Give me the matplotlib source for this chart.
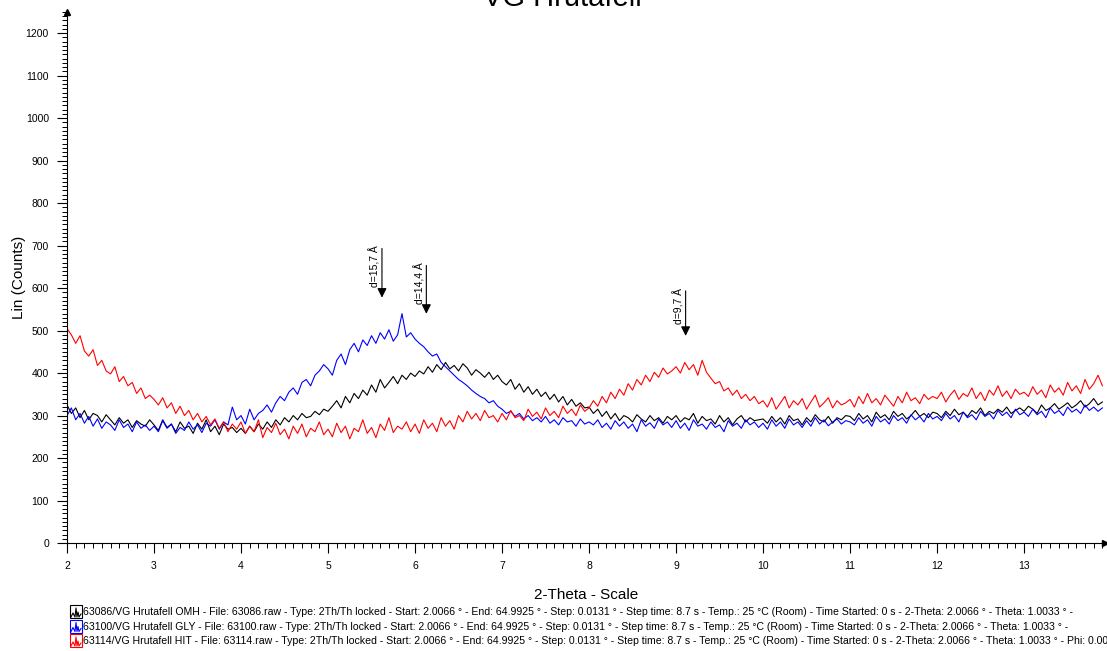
import numpy as np
import matplotlib
matplotlib.use("Agg")
from matplotlib import pyplot as plt
from matplotlib.patches import Rectangle
from matplotlib.lines import Line2D
from matplotlib.ticker import MultipleLocator

plt.rcParams['font.family'] = ['Liberation Sans', 'DejaVu Sans']

# 2-Theta grid, step 0.05 deg
two_theta = np.round(np.arange(2.0, 13.901, 0.05), 3)

omh = [325, 305, 318, 295, 312, 290, 305, 300, 285, 302, 290, 278, 295, 282, 290, 272, 288, 280, 275, 290,
       278, 265, 290, 272, 280, 262, 285, 270, 275, 258, 282, 268, 290, 262, 275, 255, 280, 268, 272, 260,
       270, 258, 275, 262, 280, 268, 285, 272, 290, 278, 295, 285, 300, 290, 305, 295, 298, 310, 302, 315,
       310, 322, 335, 318, 345, 330, 352, 340, 360, 348, 372, 355, 385, 365, 378, 392, 375, 395, 385, 400,
       392, 405, 398, 415, 402, 420, 408, 425, 410, 418, 405, 422, 412, 395, 408, 400, 390, 402, 385, 395,
       380, 372, 385, 362, 375, 355, 368, 350, 362, 345, 355, 338, 350, 332, 345, 325, 338, 322, 330, 318,
       320, 305, 315, 298, 310, 292, 305, 288, 300, 295, 285, 302, 292, 285, 300, 288, 295, 282, 298, 290,
       300, 285, 295, 290, 305, 282, 298, 288, 292, 280, 300, 285, 295, 278, 292, 300, 285, 295, 288, 290,
       292, 282, 298, 285, 295, 280, 300, 288, 292, 278, 295, 285, 302, 290, 285, 298, 282, 295, 290, 300,
       298, 288, 305, 292, 300, 285, 308, 295, 302, 290, 310, 298, 305, 292, 300, 312, 298, 305, 295, 308,
       305, 295, 310, 300, 315, 302, 308, 298, 312, 305, 318, 300, 310, 305, 315, 308, 320, 305, 312, 318,
       310, 322, 315, 305, 325, 312, 318, 328, 315, 322, 330, 318, 325, 335, 320, 328, 340, 325, 332]

gly = [300, 318, 290, 305, 282, 298, 275, 292, 270, 285, 278, 265, 290, 272, 280, 262, 285, 270, 278, 265,
       275, 262, 288, 270, 280, 258, 272, 265, 285, 268, 278, 260, 282, 275, 290, 268, 285, 278, 320, 290,
       300, 280, 315, 290, 305, 312, 325, 308, 330, 345, 335, 355, 365, 350, 378, 385, 370, 395, 405, 420,
       410, 395, 430, 445, 420, 455, 470, 450, 478, 465, 488, 470, 495, 480, 502, 475, 490, 540, 485, 495,
       480, 470, 462, 450, 440, 445, 425, 415, 405, 395, 385, 378, 370, 360, 352, 345, 340, 330, 335, 322,
       315, 305, 310, 298, 305, 292, 300, 288, 295, 285, 298, 282, 290, 278, 295, 285, 288, 275, 292, 280,
       285, 278, 290, 272, 282, 268, 288, 275, 285, 270, 280, 262, 290, 275, 283, 270, 292, 278, 285, 272,
       288, 270, 282, 265, 290, 275, 280, 268, 285, 272, 278, 262, 288, 275, 282, 270, 290, 278, 285, 272,
       282, 268, 290, 275, 285, 270, 292, 278, 285, 272, 288, 275, 295, 280, 290, 276, 285, 292, 280, 288,
       285, 278, 295, 282, 290, 275, 298, 285, 292, 280, 300, 288, 295, 282, 302, 290, 298, 285, 305, 292,
       298, 288, 305, 292, 300, 285, 308, 295, 302, 290, 310, 298, 305, 292, 312, 300, 308, 295, 315, 302,
       308, 298, 315, 302, 310, 295, 318, 305, 312, 300, 320, 308, 315, 305, 325, 312, 320, 310, 318]

hit = [505, 490, 470, 488, 452, 440, 455, 418, 430, 405, 398, 415, 380, 392, 370, 378, 352, 365, 340, 348,
       338, 325, 342, 318, 330, 305, 322, 300, 312, 290, 305, 285, 298, 278, 292, 270, 285, 262, 280, 268,
       285, 258, 275, 262, 290, 248, 272, 260, 282, 255, 268, 245, 275, 258, 280, 250, 270, 262, 285, 255,
       268, 250, 282, 260, 275, 245, 270, 262, 290, 258, 272, 248, 280, 265, 295, 260, 275, 268, 285, 262,
       280, 258, 290, 270, 282, 262, 295, 275, 288, 268, 300, 285, 310, 292, 305, 288, 312, 295, 300, 285,
       305, 290, 312, 295, 300, 288, 315, 298, 308, 292, 318, 300, 310, 295, 322, 305, 315, 300, 325, 310,
       318, 335, 322, 345, 330, 355, 340, 362, 348, 375, 360, 385, 372, 395, 380, 402, 390, 412, 398, 405,
       415, 400, 425, 408, 420, 395, 430, 402, 388, 375, 380, 358, 365, 348, 360, 340, 350, 335, 345, 328,
       335, 320, 342, 315, 330, 345, 318, 335, 325, 340, 315, 332, 348, 320, 330, 342, 318, 335, 325, 330,
       338, 320, 345, 328, 352, 330, 340, 325, 348, 335, 322, 345, 330, 355, 335, 342, 328, 350, 338, 345,
       340, 355, 332, 348, 360, 338, 352, 345, 365, 340, 355, 335, 360, 348, 370, 345, 358, 340, 362, 350,
       355, 345, 368, 350, 360, 342, 372, 355, 365, 348, 378, 358, 370, 352, 385, 362, 375, 395, 370]

# d-spacing markers: (2-theta, arrow top, arrow tip, label)
peak_pos = [5.62, 6.13, 9.11]
peak_top = [700, 660, 600]
peak_tip = [571, 533, 481]
peak_lbl = ['d=15,7 Å', 'd=14,4 Å', 'd=9,7 Å']

info = (" - Type: 2Th/Th locked - Start: 2.0066 ° - End: 64.9925 ° - Step: 0.0131 ° - Step time: 8.7 s"
        " - Temp.: 25 °C (Room) - Time Started: 0 s - 2-Theta: 2.0066 ° - Theta: 1.0033 ° -")
legend_lines = ["63086/VG Hrutafell OMH - File: 63086.raw" + info,
                "63100/VG Hrutafell GLY - File: 63100.raw" + info,
                "63114/VG Hrutafell HIT - File: 63114.raw" + info + " Phi: 0.00 ° - Psi: 0.00 °"]
colors = ['black', 'blue', 'red']

W, H = 1107, 651
fig = plt.figure(figsize=(W / 100, H / 100), dpi=100)
ax = fig.add_axes([67 / W, 1 - 543 / H, (1105 - 67) / W, (543 - 12) / H])

for y, c in zip([omh, gly, hit], colors):
    ax.plot(two_theta, y, color=c, lw=0.8)

ax.set_xlim(2.0, 13.93)
ax.set_ylim(0, 1250)
ax.xaxis.set_minor_locator(MultipleLocator(0.1))
ax.yaxis.set_minor_locator(MultipleLocator(10))
ax.set_yticks(np.arange(0, 1201, 100))
ax.set_xticks(np.arange(2, 14, 1))
ax.tick_params(which='major', length=7, width=0.8, labelsize=7.5)
ax.tick_params(axis='x', which='major', pad=6)
ax.tick_params(axis='y', which='major', pad=6)
ax.tick_params(which='minor', length=3.5, width=0.7)
for s in ['top', 'right']:
    ax.spines[s].set_visible(False)
ax.plot(1, 0, '>k', ms=4, transform=ax.transAxes, clip_on=False)
ax.plot(0, 1, '^k', ms=4, transform=ax.transAxes, clip_on=False)

ax.set_ylabel('Lin (Counts)', fontsize=11, labelpad=0)
ax.set_xlabel('2-Theta - Scale', fontsize=11, labelpad=12)

for xp, yt, yb, lb in zip(peak_pos, peak_top, peak_tip, peak_lbl):
    ax.annotate('', xy=(xp, yb), xytext=(xp, yt),
                arrowprops=dict(arrowstyle='-|>', color='k', lw=0.8, mutation_scale=14))
    ax.text(xp - 0.015, yt, lb, rotation=90, ha='right', va='top', fontsize=7.5)

fig.text(0.508, 1 - 6 / H, 'VG Hrutafell', ha='center', va='baseline', fontsize=21)

for i, (txt, c) in enumerate(zip(legend_lines, colors)):
    yc = 612 + 14.5 * i
    fig.add_artist(Rectangle((70 / W, 1 - (yc + 6) / H), 12 / W, 13 / H,
                             transform=fig.transFigure, fill=False, ec=c, lw=0.8))
    zx = np.array([71, 73, 75, 76, 77, 78, 79, 81]) / W
    zy = 1 - np.array([yc + 5, yc + 1, yc + 5, yc - 4, yc + 5, yc, yc + 5, yc + 2]) / H
    fig.add_artist(Line2D(zx, zy, transform=fig.transFigure, color=c, lw=0.8))
    fig.text(83 / W, 1 - yc / H, txt, ha='left', va='center', fontsize=7.6)

fig.savefig('out.png', dpi=100)
